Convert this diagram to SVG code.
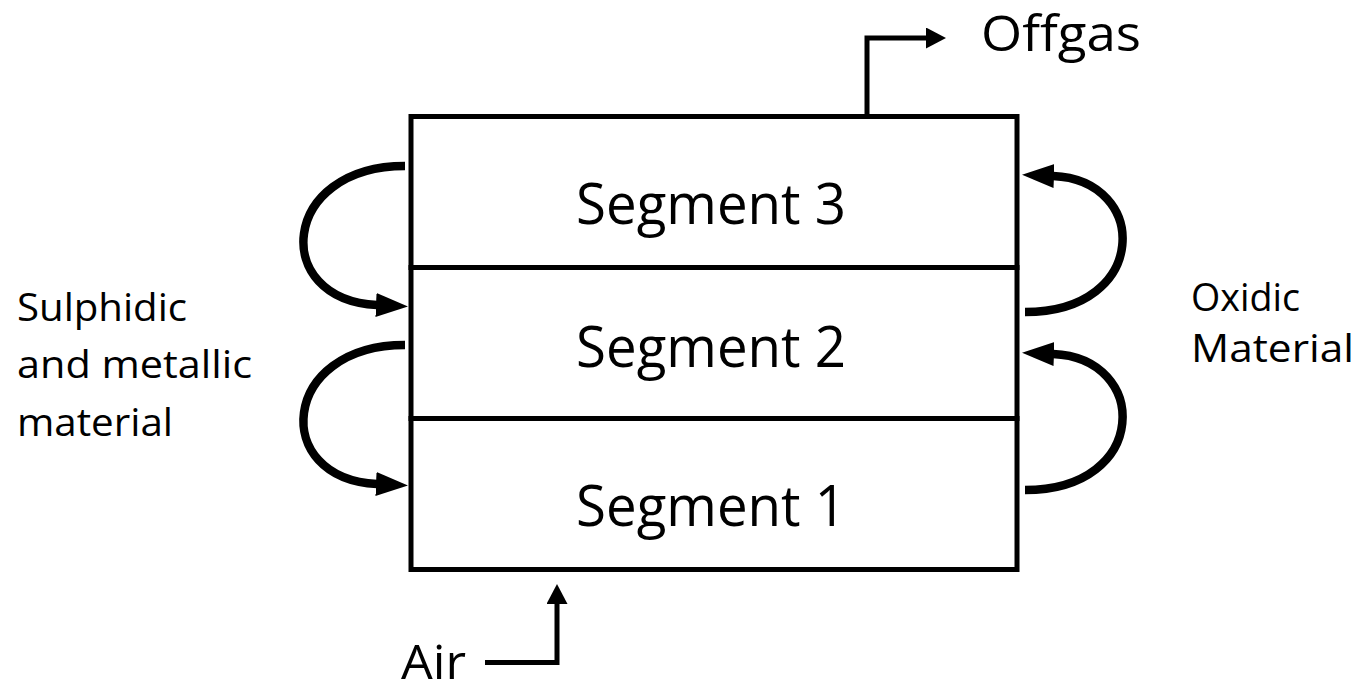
<svg xmlns="http://www.w3.org/2000/svg" width="1357" height="691" viewBox="0 0 1357 691">
<style>
  text { font-family: "Open Sans", "Noto Sans", "Liberation Sans", sans-serif; fill: #000; }
  .box { fill: #fff; stroke: #000; stroke-width: 5; }
  .flow { fill: none; stroke: #000; stroke-width: 5; stroke-linejoin: miter; }
  .arc { fill: none; stroke: #000; stroke-width: 8.5; }
  .seg { font-size: 56px; text-anchor: middle; }
  .lbl { font-size: 38px; }
</style>
<defs>
  <marker id="bigArrow" markerUnits="userSpaceOnUse" markerWidth="36" markerHeight="28" refX="1" refY="12" orient="auto">
    <path d="M0,0 L32,12 L0,24 Z" fill="#000"/>
  </marker>
  <marker id="smallArrow" markerUnits="userSpaceOnUse" markerWidth="24" markerHeight="24" refX="1" refY="10.5" orient="auto">
    <path d="M0,0 L20,10.5 L0,21 Z" fill="#000"/>
  </marker>
</defs>
<rect width="1357" height="691" fill="#fff"/>

<g id="segment3">
  <rect class="box" x="411" y="116.5" width="606" height="151"/>
  <text class="seg" x="711" y="224" textLength="270" lengthAdjust="spacingAndGlyphs">Segment 3</text>
</g>
<g id="segment2">
  <rect class="box" x="411" y="267.5" width="606" height="151"/>
  <text class="seg" x="711" y="367" textLength="270" lengthAdjust="spacingAndGlyphs">Segment 2</text>
</g>
<g id="segment1">
  <rect class="box" x="411" y="418.5" width="606" height="151"/>
  <text class="seg" x="711" y="526" textLength="270" lengthAdjust="spacingAndGlyphs">Segment 1</text>
</g>

<g id="label-offgas">
  <text class="lbl" x="981" y="51" style="font-size:50px" textLength="160" lengthAdjust="spacingAndGlyphs">Offgas</text>
</g>
<g id="label-air">
  <text class="lbl" x="401" y="679" style="font-size:47px" textLength="65" lengthAdjust="spacingAndGlyphs">Air</text>
</g>
<g id="label-sulphidic">
  <text class="lbl" x="17" y="321" textLength="170" lengthAdjust="spacingAndGlyphs">Sulphidic</text>
  <text class="lbl" x="17" y="378" textLength="235" lengthAdjust="spacingAndGlyphs">and metallic</text>
  <text class="lbl" x="17" y="436" textLength="156" lengthAdjust="spacingAndGlyphs">material</text>
</g>
<g id="label-oxidic">
  <text class="lbl" x="1191" y="311" textLength="109" lengthAdjust="spacingAndGlyphs">Oxidic</text>
  <text class="lbl" x="1191" y="362" textLength="163" lengthAdjust="spacingAndGlyphs">Material</text>
</g>

<g id="connectors">
  <path class="flow" d="M867,116 L867,38 L927,38" marker-end="url(#smallArrow)"/>
  <path class="flow" d="M485,662.5 L557,662.5 L557,603" marker-end="url(#smallArrow)"/>
  <path class="arc" d="M405,166 C280,166 270,300 377,305" marker-end="url(#bigArrow)"/>
  <path class="arc" d="M405,345 C280,345 270,479 377,484" marker-end="url(#bigArrow)"/>
  <path class="arc" d="M1025,312 C1150,312 1150,180 1053,176" marker-end="url(#bigArrow)"/>
  <path class="arc" d="M1025,490 C1150,490 1150,358 1053,354" marker-end="url(#bigArrow)"/>
</g>
</svg>
